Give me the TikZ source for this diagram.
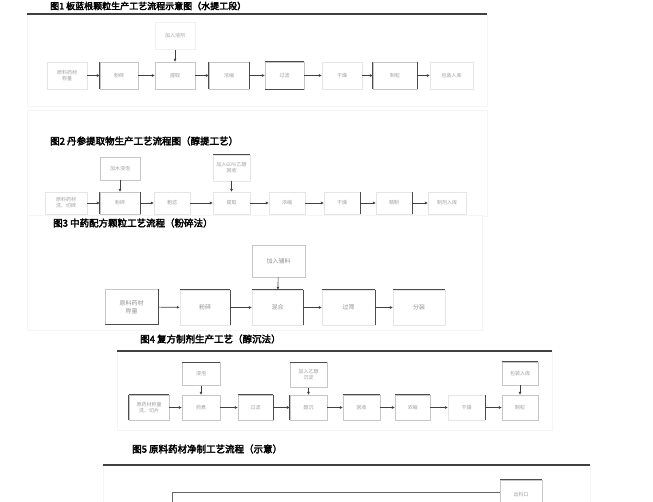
\documentclass[tikz,border=0pt]{standalone}
\usepackage{fontspec}
\newfontfamily\cjk{Noto Sans CJK SC}
\newfontfamily\cjkb[FakeBold=3]{Noto Sans CJK SC}
\usetikzlibrary{arrows.meta}
\tikzset{
 bx/.style={draw=gray!45, line width=0.4pt, fill=white, font=\cjk\fontsize{5}{6}\selectfont, text=gray!75, align=center, inner sep=1pt},
 fbx/.style={bx, draw=gray!20},
 bigtxt/.style={font=\cjk\fontsize{6}{7.5}\selectfont, text=gray!85},
 arr/.style={-{Latex[length=3pt,width=3pt]}, line width=0.6pt, draw=black!75},
 ttl/.style={anchor=west, font=\cjkb\fontsize{9.5}{10}\selectfont, text=black, inner sep=0},
 rulel/.style={line width=1.6pt, draw=black!75},
 panel/.style={draw=gray!8, fill=white, line width=0.4pt},
 edg/.style={draw=black!70, line width=0.7pt},
}
\begin{document}
\begin{tikzpicture}[x=1pt,y=-1pt]
\useasboundingbox (0,0) rectangle (653,502);
\fill[white] (0,0) rectangle (653,502);

% ---------- panel 1
\draw[panel] (27,14) rectangle (487,106);
\node[ttl, font=\cjkb\fontsize{9}{10}\selectfont] (t1) at (50,6) {图1 板蓝根颗粒生产工艺流程示意图（水提工段）};
\draw[rulel] (27,14) -- (487,14);
\node[fbx, minimum width=40pt, minimum height=27pt] (p1a) at (67,75.5) {原料药材\\称量};
\node[bx, minimum width=38pt, minimum height=27pt] (p1b) at (119,75.5) {粉碎};
\node[bx, minimum width=40pt, minimum height=27pt] (p1c) at (175,75.5) {提取};
\node[fbx, draw=gray!12, minimum width=40pt, minimum height=27pt] (p1t) at (175,36) {加入溶剂};
\node[bx, minimum width=40pt, minimum height=27pt] (p1d) at (229,75.5) {浓缩};
\node[bx, minimum width=39pt, minimum height=27pt] (p1e) at (284.5,75.5) {过滤};
\node[fbx, minimum width=40pt, minimum height=27pt] (p1f) at (342,75.5) {干燥};
\node[bx, minimum width=44pt, minimum height=27pt] (p1g) at (395,75.5) {制粒};
\node[fbx, minimum width=43pt, minimum height=27pt] (p1h) at (451.5,75.5) {包装入库};
\draw[edg] (p1b.north west) -- (p1b.south west);
\draw[edg] (p1d.north west) -- (p1d.south west);
\draw[edg] (p1d.north east) -- (p1d.south east);
\draw[edg] (p1e.north west) -- (p1e.north east);
\draw[edg] (p1e.south west) -- (p1e.south east);
\draw[edg] (p1g.north west) -- (p1g.south west);
\draw[edg] (p1g.north east) -- (p1g.south east);
\draw[arr] (p1a) -- (p1b);
\draw[arr] (p1b) -- (p1c);
\draw[arr] (p1t) -- (p1c);
\draw[arr] (p1c) -- (p1d);
\draw[arr] (p1d) -- (p1e);
\draw[arr] (p1e) -- (p1f);
\draw[arr] (p1f) -- (p1g);
\draw[arr] (p1g) -- (p1h);

% ---------- panel 2
\draw[panel] (27,110) rectangle (487,216);
\node[ttl] (t2) at (50,141) {图2 丹参提取物生产工艺流程图（醇提工艺）};
\node[fbx, minimum width=42pt, minimum height=22pt] (p2a) at (66,203) {原料药材\\洗、切碎};
\node[bx, minimum width=40pt, minimum height=23pt] (p2t) at (120,168.5) {加水浸泡};
\node[bx, minimum width=40pt, minimum height=22pt] (p2b) at (120,203) {粉碎};
\node[fbx, minimum width=36pt, minimum height=22pt] (p2c) at (172,203) {粗滤};
\node[fbx, minimum width=37pt, minimum height=26pt] (p2u) at (231.5,168) {加入60\%乙醇\\回收};
\node[fbx, minimum width=37pt, minimum height=22pt] (p2d) at (231.5,203) {提取};
\node[fbx, minimum width=36pt, minimum height=22pt] (p2e) at (287,203) {浓缩};
\node[fbx, minimum width=36pt, minimum height=22pt] (p2f) at (342,203) {干燥};
\node[fbx, minimum width=36pt, minimum height=22pt] (p2g) at (394,203) {精制};
\node[fbx, minimum width=38pt, minimum height=22pt] (p2h) at (447,203) {制剂入库};
\draw[edg] (p2b.north west) -- (p2b.south west);
\draw[edg] (p2b.north east) -- (p2b.south east);
\draw[edg] (p2u.north west) -- (p2u.north east);
\draw[edg] (p2f.north east) -- (p2f.south east);
\draw[edg] (p2g.north east) -- (p2g.south east);
\draw[arr] (p2a) -- (p2b);
\draw[arr] (p2t) -- (p2b);
\draw[arr] (p2b) -- (p2c);
\draw[arr] (p2c) -- (p2d);
\draw[arr] (p2u) -- (p2d);
\draw[arr] (p2d) -- (p2e);
\draw[arr] (p2e) -- (p2f);
\draw[arr] (p2f) -- (p2g);
\draw[arr] (p2g) -- (p2h);

% ---------- panel 3
\draw[panel] (27,215) rectangle (482,330);
\node[ttl] (t3) at (53,223) {图3 中药配方颗粒工艺流程（粉碎法）};
\node[bx, bigtxt, minimum width=53pt, minimum height=32pt] (p3t) at (278.5,261) {加入辅料};
\node[bx, bigtxt, minimum width=53pt, minimum height=35pt] (p3a) at (131.5,307) {原料药材\\称量};
\node[fbx, bigtxt, minimum width=50pt, minimum height=35pt] (p3b) at (205,307.5) {粉碎};
\node[fbx, bigtxt, minimum width=51pt, minimum height=35pt] (p3c) at (277.5,307.5) {混合};
\node[fbx, bigtxt, minimum width=53pt, minimum height=35pt] (p3d) at (348.5,307.5) {过筛};
\node[fbx, bigtxt, minimum width=52pt, minimum height=35pt] (p3e) at (419,307.5) {分装};
\draw[edg] (p3a.south west) -- (p3a.south east);
\draw[edg] (p3a.north east) -- (p3a.south east);
\draw[edg] (p3b.north west) -- (p3b.north east);
\draw[edg] (p3b.north east) -- (p3b.south east);
\draw[edg] (p3c.north west) -- (p3c.north east);
\draw[edg] (p3c.north east) -- (p3c.south east);
\draw[edg] (p3d.north west) -- (p3d.north east);
\draw[edg] (p3d.north east) -- (p3d.south east);
\draw[edg] (p3e.north west) -- (p3e.north east);
\draw[arr] (p3a) -- (p3b);
\draw[arr] (p3b) -- (p3c);
\draw[arr] (p3t) -- (p3c);
\draw[arr] (p3c) -- (p3d);
\draw[arr] (p3d) -- (p3e);

% ---------- panel 4
\draw[panel] (117,351) rectangle (552,430);
\node[ttl] (t4) at (140,339) {图4 复方制剂生产工艺（醇沉法）};
\draw[rulel] (117,351) -- (552,351);
\node[bx, minimum width=40pt, minimum height=25pt] (p4a) at (149,407.5) {原药材称量\\洗、切片};
\node[bx, minimum width=38pt, minimum height=23pt] (p4t1) at (201,374) {浸泡};
\node[bx, minimum width=38pt, minimum height=25pt] (p4b) at (201,407.5) {煎煮};
\node[bx, minimum width=35pt, minimum height=25pt] (p4c) at (255.5,407.5) {过滤};
\node[bx, minimum width=37pt, minimum height=25pt] (p4t2) at (308.5,375) {加入乙醇\\沉淀};
\node[bx, minimum width=37pt, minimum height=25pt] (p4d) at (308.5,407.5) {醇沉};
\node[bx, minimum width=37pt, minimum height=25pt] (p4e) at (361.5,407.5) {回收};
\node[bx, minimum width=35pt, minimum height=25pt] (p4f) at (412.5,407.5) {浓缩};
\node[fbx, minimum width=37pt, minimum height=25pt] (p4g) at (466.5,407.5) {干燥};
\node[bx, minimum width=36pt, minimum height=25pt] (p4h) at (520,407.5) {制粒};
\node[bx, minimum width=36pt, minimum height=23pt] (p4t3) at (520,373.5) {包装入库};
\draw[edg] (p4a.north west) -- (p4a.north east);
\draw[edg] (p4a.north west) -- (p4a.south west);
\draw[edg] (p4t1.north west) -- (p4t1.north east);
\draw[edg] (p4c.north west) -- (p4c.north east);
\draw[edg] (p4c.north east) -- (p4c.south east);
\draw[edg] (p4d.north west) -- (p4d.south west);
\draw[edg] (p4t2.north west) -- (p4t2.north east);
\draw[edg] (p4e.north west) -- (p4e.north east);
\draw[edg] (p4f.north west) -- (p4f.north east);
\draw[edg] (p4g.north east) -- (p4g.south east);
\draw[edg] (p4t3.north west) -- (p4t3.north east);
\draw[arr] (p4a) -- (p4b);
\draw[arr] (p4t1) -- (p4b);
\draw[arr] (p4b) -- (p4c);
\draw[arr] (p4c) -- (p4d);
\draw[arr] (p4t2) -- (p4d);
\draw[arr] (p4d) -- (p4e);
\draw[arr] (p4e) -- (p4f);
\draw[arr] (p4f) -- (p4g);
\draw[arr] (p4g) -- (p4h);
\draw[arr] (p4t3) -- (p4h);

% ---------- panel 5
\draw[panel] (103,465) rectangle (590,502);
\node[ttl] (t5) at (132,449) {图5 原料药材净制工艺流程（示意）};
\draw[rulel] (103,465) -- (590,465);
\node[bx, minimum width=42pt, minimum height=30pt] (p5a) at (521,495) {出料口};
\draw[edg] (p5a.north west) -- (p5a.north east);
\coordinate (p5c) at (172,492);
\coordinate (p5d) at (172,504);
\draw[line width=0.6pt, draw=black!60] (p5d) -- (p5c) -- (p5a.west |- p5c);
\end{tikzpicture}
\end{document}
